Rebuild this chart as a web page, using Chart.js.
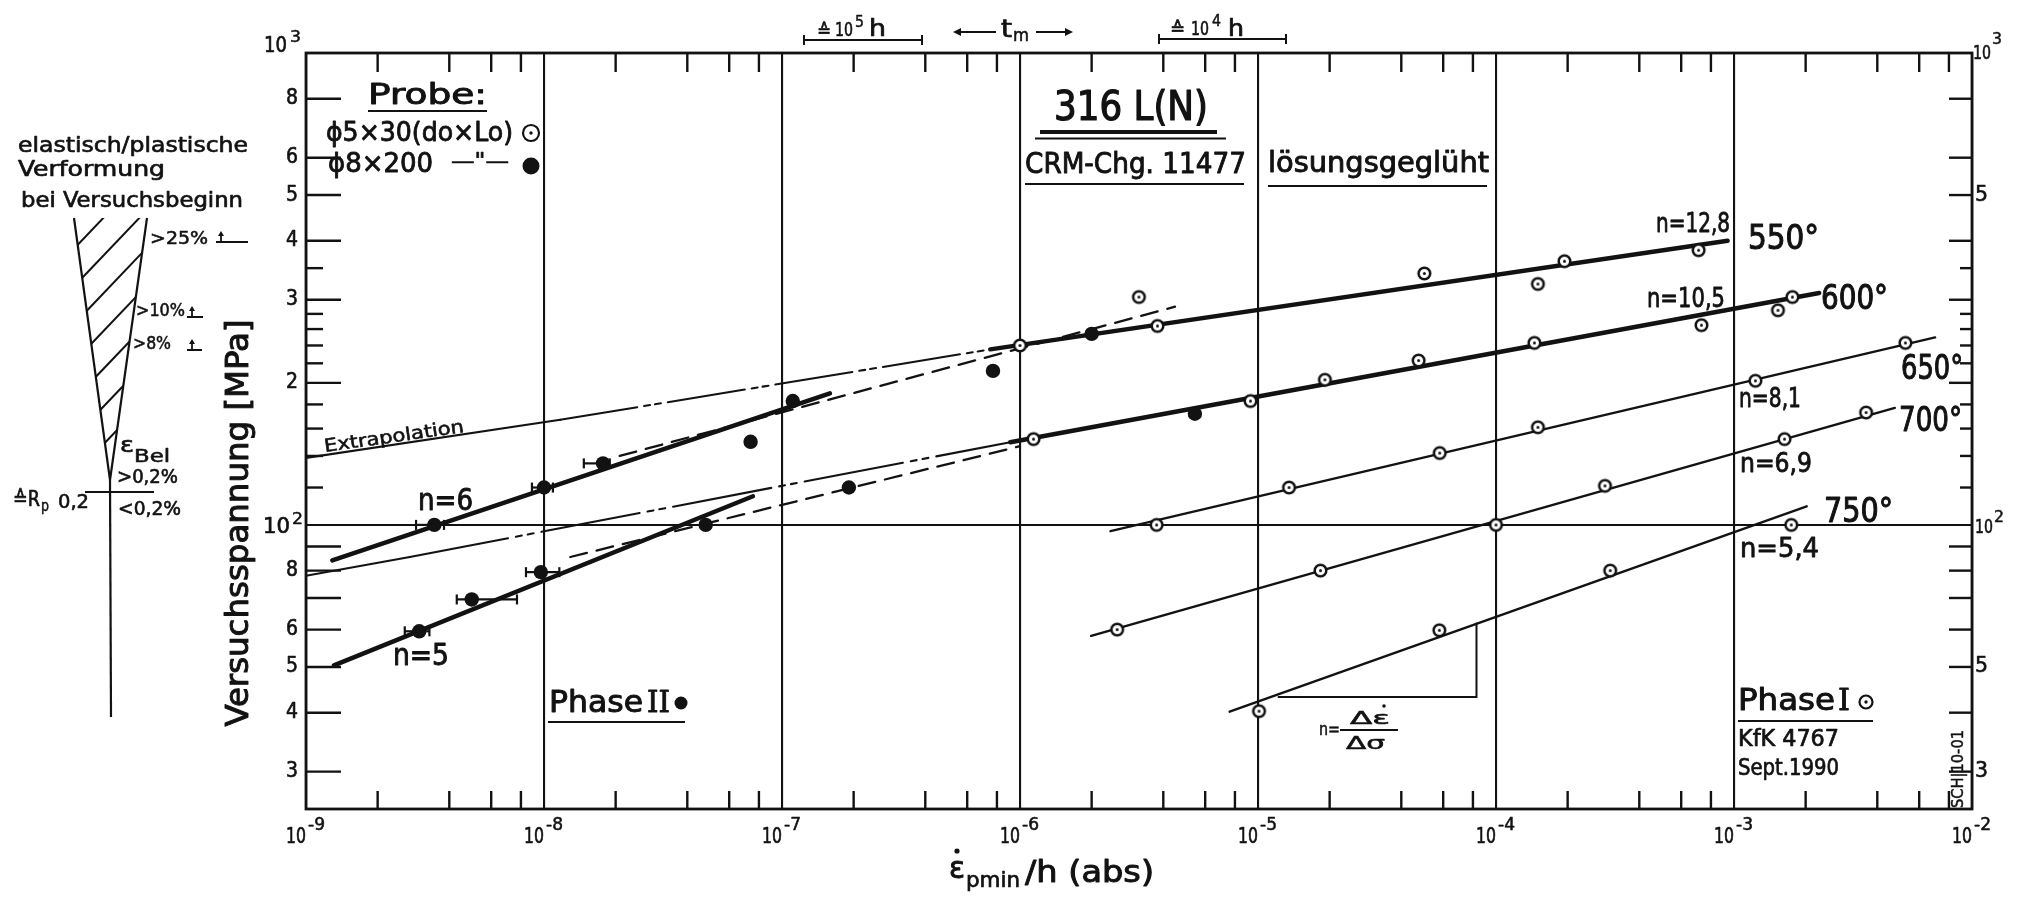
<!DOCTYPE html>
<html>
<head>
<meta charset="utf-8">
<title>316 L(N) - Kriechgeschwindigkeit</title>
<script src="https://cdn.jsdelivr.net/npm/chart.js@4.4.1/dist/chart.umd.min.js"></script>
<style>
  html, body { margin: 0; padding: 0; background: #fff; }
  #wrap { width: 2022px; height: 898px; }
</style>
</head>
<body>
<div id="wrap"><canvas id="chart" width="2022" height="898"></canvas></div>
<script>
// values: minimum creep rate (1/h) vs. stress (MPa)
// Phase I = open circles, Phase II = filled circles
const rate550 = [1.0e-6, 3.16e-6, 3.78e-6, 5.0e-5, 1.5e-4, 1.94e-4, 7.1e-4];
const sig550  = [240, 304, 264, 341, 324, 362, 382];
const rate600 = [1.14e-6, 9.3e-6, 1.91e-5, 4.73e-5, 1.45e-4, 7.3e-4, 1.53e-3, 1.76e-3];
const sig600  = [152, 183, 203, 223, 243, 265, 285, 304];
const rate650 = [3.75e-6, 1.35e-5, 5.8e-5, 1.5e-4, 1.23e-3, 5.25e-3];
const sig650  = [100, 120, 142, 161, 202, 243];
const rate700 = [2.56e-6, 1.83e-5, 1.0e-4, 2.87e-4, 1.63e-3, 3.59e-3];
const sig700  = [60, 80, 100, 121, 152, 173];
const rate750 = [1.01e-5, 5.78e-5, 3.02e-4, 1.74e-3];
const sig750  = [40.3, 59.8, 80, 100];

const rateII = [2.99e-9, 3.46e-9, 4.97e-9, 9.7e-9, 1.0e-8, 1.77e-8, 4.78e-8, 7.38e-8, 1.11e-7, 1.91e-7, 7.7e-7, 2.0e-6, 5.43e-6];
const sigII  = [59.5, 100, 69.5, 79.4, 120, 135, 100, 150, 183, 120, 212, 254, 172];

// horizontal scatter bars on some Phase II points
const errSig = [59.5, 100, 69.5, 79.4, 120, 135];
const errLo  = [2.6e-9, 2.9e-9, 4.3e-9, 8.4e-9, 8.9e-9, 1.47e-8];
const errHi  = [3.3e-9, 3.8e-9, 7.7e-9, 1.16e-8, 1.09e-8, 1.89e-8];

// drawn fit lines (end points)
const fit550Rate = [7.5e-7, 9.4e-4],  fit550Sig = [235.5, 400];
const fit600Rate = [9.1e-7, 2.28e-3], fit600Sig = [149.7, 310];
const fit650Rate = [2.4e-6, 7.0e-3],  fit650Sig = [97, 249.6];
const fit700Rate = [1.99e-6, 4.74e-3], fit700Sig = [58.2, 177];
const fit750Rate = [7.6e-6, 2.02e-3], fit750Sig = [40.2, 109.5];
const fitN6Rate = [1.29e-9, 1.59e-7], fitN6Sig = [84.1, 190];
const fitN5Rate = [1.31e-9, 7.55e-8], fitN5Sig = [50.4, 115];
const ext550Rate = [1e-9, 1.17e-8, 7.5e-7], ext550Sig = [138.7, 167, 235.5];
const ext600Rate = [1e-9, 2.73e-9, 9.1e-7], ext600Sig = [78, 85.5, 149.7];
const dashBRate = [2.08e-8, 4.48e-6], dashBSig = [140, 290];
const dashDRate = [1.29e-8, 1.0e-6], dashDSig = [85.5, 146.8];
const triRate = [1.22e-5, 8.28e-5, 8.28e-5], triSig = [43.2, 43.2, 61.8];

// axes
const xExp = [-9, -8, -7, -6, -5, -4, -3, -2];
const xMinor = [2, 4, 6, 8];
const yLong = [800, 600, 500, 400, 300, 200, 90, 80, 70, 60, 50, 40, 30];
const yShort = [350, 280, 260, 240, 220, 180, 160, 140, 120];
const yLeftDigits = [800, 600, 500, 400, 300, 200, 80, 60, 50, 40, 30];
const yRightDigits = [500, 50, 30];

const INK = '#121212';
const FONT = "'DejaVu Sans Condensed', 'DejaVu Sans', sans-serif";
const SERIF = "'DejaVu Serif', 'Liberation Serif', serif";

function pts(xs, ys) { return xs.map((x, i) => ({ x: x, y: ys[i] })); }

function ringImage(r, lw) {
  const c = document.createElement('canvas');
  const s = Math.ceil(2 * (r + lw)) + 2;
  c.width = c.height = s;
  const g = c.getContext('2d');
  g.fillStyle = '#fff'; g.strokeStyle = INK; g.lineWidth = lw;
  g.beginPath(); g.arc(s / 2, s / 2, r, 0, Math.PI * 2); g.fill(); g.stroke();
  g.fillStyle = INK;
  g.beginPath(); g.arc(s / 2, s / 2, 1.5, 0, Math.PI * 2); g.fill();
  return c;
}
const ring = ringImage(5.8, 2.5);

function openSet(label, xs, ys) {
  return { label: label, data: pts(xs, ys), showLine: false, pointStyle: ring, pointRadius: 7, order: 0 };
}

function lineSet(label, xs, ys, width, dash, solidFirst) {
  const d = {
    label: label, data: pts(xs, ys), showLine: true, pointRadius: 0,
    borderColor: INK, borderWidth: width, borderCapStyle: 'round',
    borderDash: dash || [], fill: false, tension: 0, order: 1
  };
  if (solidFirst) d.segment = { borderDash: c => c.p0DataIndex === 0 ? [] : dash };
  return d;
}

// text helper: x,y = left edge / vertical centre, w = width to squeeze into
function put(ctx, s, x, y, size, o) {
  o = o || {};
  ctx.save();
  ctx.font = size + 'px ' + (o.family || FONT);
  ctx.fillStyle = INK;
  ctx.strokeStyle = INK;
  ctx.lineWidth = o.heavy === undefined ? size / 34 : o.heavy;
  ctx.lineJoin = 'round';
  ctx.textAlign = 'left';
  ctx.textBaseline = o.base || 'middle';
  const w = ctx.measureText(s).width;
  const tw = o.w || w;
  ctx.translate(x, y);
  if (o.rot) ctx.rotate(o.rot);
  if (o.align === 'right') ctx.translate(-tw, 0);
  if (o.align === 'center') ctx.translate(-tw / 2, 0);
  ctx.scale(tw / w, 1);
  ctx.fillText(s, 0, 0);
  if (ctx.lineWidth > 0) ctx.strokeText(s, 0, 0);
  ctx.restore();
}

function ln(ctx, x1, y1, x2, y2, lw) {
  ctx.lineWidth = lw || 2;
  ctx.beginPath(); ctx.moveTo(x1, y1); ctx.lineTo(x2, y2); ctx.stroke();
}

function dotRing(ctx, x, y, r) {
  ctx.lineWidth = 2.2;
  ctx.beginPath(); ctx.arc(x, y, r, 0, Math.PI * 2); ctx.stroke();
  ctx.beginPath(); ctx.arc(x, y, 1.7, 0, Math.PI * 2); ctx.fill();
}

function dot(ctx, x, y, r) {
  ctx.beginPath(); ctx.arc(x, y, r, 0, Math.PI * 2); ctx.fill();
}

function arrowHead(ctx, x, y, dir) {
  ctx.beginPath();
  ctx.moveTo(x, y);
  ctx.lineTo(x - dir * 8, y - 4);
  ctx.lineTo(x - dir * 8, y + 4);
  ctx.closePath(); ctx.fill();
}

function upTick(ctx, x, yb, w) {
  ln(ctx, x, yb, x + w, yb, 2);
  ln(ctx, x + 5, yb, x + 5, yb - 8, 1.8);
  ctx.beginPath();
  ctx.moveTo(x + 5, yb - 11); ctx.lineTo(x + 2, yb - 6); ctx.lineTo(x + 8, yb - 6);
  ctx.closePath(); ctx.fill();
}

function drawLeftPanel(ctx) {
  put(ctx, 'elastisch/plastische', 18, 147, 21, { w: 230 });
  put(ctx, 'Verformung', 18, 171, 21, { w: 147 });
  put(ctx, 'bei Versuchsbeginn', 21, 202, 21, { w: 222 });

  // wedge
  const A = [74, 218], B = [147, 218], C = [110, 480];
  ln(ctx, A[0], A[1], C[0], C[1], 2.2);
  ln(ctx, B[0], B[1], C[0], C[1], 2.2);
  ln(ctx, C[0], C[1], 111, 717, 2.2);
  ctx.save();
  ctx.beginPath(); ctx.moveTo(A[0], A[1]); ctx.lineTo(B[0], B[1]); ctx.lineTo(C[0], C[1]); ctx.closePath();
  ctx.clip();
  for (let k = 0; k < 7; k++) {
    const y0 = 245 + 33 * k;
    const x0 = A[0] + (y0 - A[1]) * (C[0] - A[0]) / (C[1] - A[1]);
    ln(ctx, x0 - 4, y0 + 4, x0 + 120, y0 - 126, 2);
  }
  ctx.restore();

  put(ctx, '>25%', 150, 240, 17, { w: 58 });
  upTick(ctx, 216, 242, 32);
  put(ctx, '>10%', 136, 312, 17, { w: 49 });
  upTick(ctx, 187, 317, 16);
  put(ctx, '>8%', 133, 345, 17, { w: 38 });
  upTick(ctx, 187, 350, 15);

  put(ctx, 'ε', 120, 446, 22, { w: 14 });
  put(ctx, 'Bel', 134, 457, 18, { w: 36 });
  put(ctx, '>0,2%', 117, 478, 19, { w: 61 });
  ln(ctx, 85, 492, 154, 492, 2);
  put(ctx, '≙R', 13, 500, 22, { w: 27 });
  put(ctx, 'p', 41, 507, 16, { w: 8 });
  put(ctx, '0,2', 58, 503, 20, { w: 31 });
  put(ctx, '<0,2%', 118, 510, 19, { w: 63 });
}

const decor = {
  id: 'decor',
  afterDraw(chart) {
    const ctx = chart.ctx, a = chart.chartArea;
    const X = v => chart.scales.x.getPixelForValue(v);
    const Y = v => chart.scales.y.getPixelForValue(v);
    ctx.save();
    ctx.strokeStyle = INK; ctx.fillStyle = INK; ctx.lineCap = 'butt';

    // frame
    ctx.lineWidth = 2.8;
    ctx.strokeRect(a.left, a.top, a.right - a.left, a.bottom - a.top);

    // inward ticks
    for (let i = 0; i < xExp.length - 1; i++) {
      for (const m of xMinor) {
        const px = X(m * Math.pow(10, xExp[i]));
        ln(ctx, px, a.bottom, px, a.bottom - 18, 2.4);
        ln(ctx, px, a.top, px, a.top + 19, 2.4);
      }
    }
    yLong.forEach(v => { ln(ctx, a.left, Y(v), a.left + 35, Y(v), 2.4); ln(ctx, a.right, Y(v), a.right - 23, Y(v), 2.4); });
    yShort.forEach(v => { ln(ctx, a.left, Y(v), a.left + 17, Y(v), 2.4); ln(ctx, a.right, Y(v), a.right - 12, Y(v), 2.4); });

    // error bars
    errSig.forEach((s, i) => {
      const y = Y(s), x1 = X(errLo[i]), x2 = X(errHi[i]);
      ln(ctx, x1, y, x2, y, 2.2);
      ln(ctx, x1, y - 5, x1, y + 5, 2.2);
      ln(ctx, x2, y - 5, x2, y + 5, 2.2);
    });

    // x tick labels
    xExp.forEach(e => {
      const px = X(Math.pow(10, e));
      put(ctx, '10', px - 20, 837, 22, { w: 20 });
      put(ctx, '-' + Math.abs(e), px + 2, 826, 17, { w: 17 });
    });
    // left y labels
    yLeftDigits.forEach(v => put(ctx, String(v).charAt(0), 298, Y(v), 21, { align: 'right', w: 12 }));
    put(ctx, '10', 264, Y(1000) - 6, 21, { w: 23 });
    put(ctx, '3', 290, Y(1000) - 15, 16, { w: 11 });
    put(ctx, '10', 263, Y(100) + 3, 21, { w: 27 });
    put(ctx, '2', 292, Y(100) - 5, 16, { w: 11 });
    // right y labels
    yRightDigits.forEach(v => put(ctx, String(v).charAt(0), 1975, Y(v), 21, { w: 13 }));
    put(ctx, '10', 1973, Y(1000) + 1, 20, { w: 18 });
    put(ctx, '3', 1992, Y(1000) - 13, 16, { w: 10 });
    put(ctx, '10', 1975, Y(100) + 3, 20, { w: 18 });
    put(ctx, '2', 1994, Y(100) - 7, 16, { w: 10 });

    // axis titles
    put(ctx, 'Versuchsspannung [MPa]', 240, 523, 32, { rot: -Math.PI / 2, align: 'center', w: 407 });
    put(ctx, 'ε', 949, 870, 30, { w: 16 });
    dot(ctx, 957, 851, 2.6);
    put(ctx, 'pmin', 966, 882, 21, { w: 54 });
    put(ctx, '/h (abs)', 1025, 874, 31, { w: 129 });

    // top annotations
    ln(ctx, 804, 40, 922, 40, 2); ln(ctx, 804, 35, 804, 45, 2); ln(ctx, 922, 35, 922, 45, 2);
    put(ctx, '≙', 817, 32, 19, { w: 14 });
    put(ctx, '10', 835, 31, 19, { w: 18 });
    put(ctx, '5', 855, 23, 15, { w: 9 });
    put(ctx, 'h', 869, 30, 23, { w: 17 });
    ln(ctx, 958, 32, 996, 32, 2); arrowHead(ctx, 953, 32, -1);
    put(ctx, 't', 1001, 31, 24, { w: 11 });
    put(ctx, 'm', 1013, 37, 17, { w: 16 });
    ln(ctx, 1036, 32, 1067, 32, 2); arrowHead(ctx, 1073, 32, 1);
    ln(ctx, 1159, 39, 1286, 39, 2); ln(ctx, 1159, 34, 1159, 44, 2); ln(ctx, 1286, 34, 1286, 44, 2);
    put(ctx, '≙', 1170, 30, 19, { w: 15 });
    put(ctx, '10', 1191, 30, 19, { w: 18 });
    put(ctx, '4', 1212, 22, 15, { w: 9 });
    put(ctx, 'h', 1228, 30, 23, { w: 16 });

    // title block
    put(ctx, '316 L(N)', 1054, 110, 40, { w: 154 });
    ln(ctx, 1040, 132, 1217, 132, 3.8);
    ln(ctx, 1035, 138.5, 1226, 138.5, 2);
    put(ctx, 'CRM-Chg. 11477', 1025, 166, 28, { w: 221 });
    ln(ctx, 1025, 184, 1244, 184, 2);
    put(ctx, 'lösungsgeglüht', 1268, 165, 28, { w: 221 });
    ln(ctx, 1268, 186, 1487, 186, 2);

    // specimen legend
    put(ctx, 'Probe:', 368, 97, 28, { w: 119 });
    ln(ctx, 368, 111, 487, 111, 2);
    put(ctx, 'ϕ5×30(do×Lo)', 326, 134, 27, { w: 187 });
    dotRing(ctx, 531, 133, 8);
    put(ctx, 'ϕ8×200', 328, 165, 27, { w: 105 });
    put(ctx, '—"—', 451, 162, 22, { w: 58 });
    dot(ctx, 531, 166, 8.5);

    // phase labels
    put(ctx, 'Phase', 549, 704, 31, { w: 94 });
    put(ctx, 'II', 647, 704, 29, { w: 23, family: SERIF });
    dot(ctx, 681, 703, 6.5);
    ln(ctx, 548, 722, 685, 722, 2.2);
    put(ctx, 'Phase', 1738, 702, 31, { w: 97 });
    put(ctx, 'I', 1838, 702, 29, { w: 12, family: SERIF });
    dotRing(ctx, 1866, 702, 6.5);
    ln(ctx, 1738, 721, 1873, 721, 2.2);
    put(ctx, 'KfK 4767', 1738, 740, 23, { w: 101 });
    put(ctx, 'Sept.1990', 1738, 769, 23, { w: 101 });
    put(ctx, 'SCH|10-01', 1959, 769, 16, { rot: -Math.PI / 2, align: 'center', w: 78 });

    // curve labels
    put(ctx, 'n=12,8', 1656, 225, 26, { w: 74 });
    put(ctx, '550°', 1748, 240, 33, { w: 71 });
    put(ctx, 'n=10,5', 1647, 300, 26, { w: 78 });
    put(ctx, '600°', 1821, 300, 33, { w: 67 });
    put(ctx, '650°', 1901, 370, 33, { w: 62 });
    put(ctx, 'n=8,1', 1739, 400, 26, { w: 62 });
    put(ctx, '700°', 1899, 422, 33, { w: 63 });
    put(ctx, 'n=6,9', 1740, 465, 26, { w: 72 });
    put(ctx, '750°', 1824, 513, 33, { w: 69 });
    put(ctx, 'n=5,4', 1740, 550, 26, { w: 79 });
    put(ctx, 'n=6', 418, 502, 30, { w: 55 });
    put(ctx, 'n=5', 393, 657, 30, { w: 56 });
    put(ctx, 'Extrapolation', 325, 452, 18, { rot: -0.142, base: 'alphabetic', w: 141 });

    // slope formula under the triangle
    put(ctx, 'n=', 1319, 730, 18, { w: 21 });
    ln(ctx, 1340, 730, 1398, 730, 1.8);
    put(ctx, 'Δε', 1350, 719, 18, { w: 40 });
    dot(ctx, 1384, 706, 1.8);
    put(ctx, 'Δσ', 1346, 745, 17, { w: 39 });

    drawLeftPanel(ctx);
    ctx.restore();
  }
};

const dashDot = [78, 7, 6, 5, 6, 7];
const dashDot2 = [100, 8, 6, 6, 6, 8];
const dashed = [17, 10];

new Chart(document.getElementById('chart'), {
  type: 'scatter',
  data: {
    datasets: [
      openSet('550°', rate550, sig550),
      openSet('600°', rate600, sig600),
      openSet('650°', rate650, sig650),
      openSet('700°', rate700, sig700),
      openSet('750°', rate750, sig750),
      { label: 'Phase II', data: pts(rateII, sigII), showLine: false, pointStyle: 'circle', pointRadius: 7.2, backgroundColor: INK, borderWidth: 0, order: 0 },
      lineSet('n=12,8', fit550Rate, fit550Sig, 4.5),
      lineSet('n=10,5', fit600Rate, fit600Sig, 4.5),
      lineSet('n=8,1', fit650Rate, fit650Sig, 2.4),
      lineSet('n=6,9', fit700Rate, fit700Sig, 2.4),
      lineSet('n=5,4', fit750Rate, fit750Sig, 2.4),
      lineSet('n=6', fitN6Rate, fitN6Sig, 4.5),
      lineSet('n=5', fitN5Rate, fitN5Sig, 4.5),
      lineSet('Extrapolation 550', ext550Rate, ext550Sig, 2.1, dashDot, true),
      lineSet('Extrapolation 600', ext600Rate, ext600Sig, 2.1, dashDot2, true),
      lineSet('upper dashed', dashBRate, dashBSig, 2.3, dashed),
      lineSet('lower dashed', dashDRate, dashDSig, 2.3, dashed),
      lineSet('slope triangle', triRate, triSig, 2)
    ]
  },
  options: {
    responsive: false,
    animation: false,
    devicePixelRatio: 1,
    events: [],
    layout: { padding: { left: 306, right: 50, top: 53, bottom: 89 } },
    plugins: { legend: { display: false }, tooltip: { enabled: false } },
    scales: {
      x: {
        type: 'logarithmic', min: 1e-9, max: 1e-2,
        afterBuildTicks: s => { s.ticks = xExp.map(e => ({ value: Math.pow(10, e) })); },
        afterFit: s => { s.height = 0; },
        ticks: { display: false },
        border: { display: false },
        grid: { color: INK, lineWidth: 2.1, drawTicks: false }
      },
      y: {
        type: 'logarithmic', min: 25, max: 1000,
        afterBuildTicks: s => { s.ticks = [{ value: 100 }]; },
        afterFit: s => { s.width = 0; },
        ticks: { display: false },
        border: { display: false },
        grid: { color: INK, lineWidth: 2.1, drawTicks: false }
      }
    }
  },
  plugins: [decor]
});
</script>
</body>
</html>
